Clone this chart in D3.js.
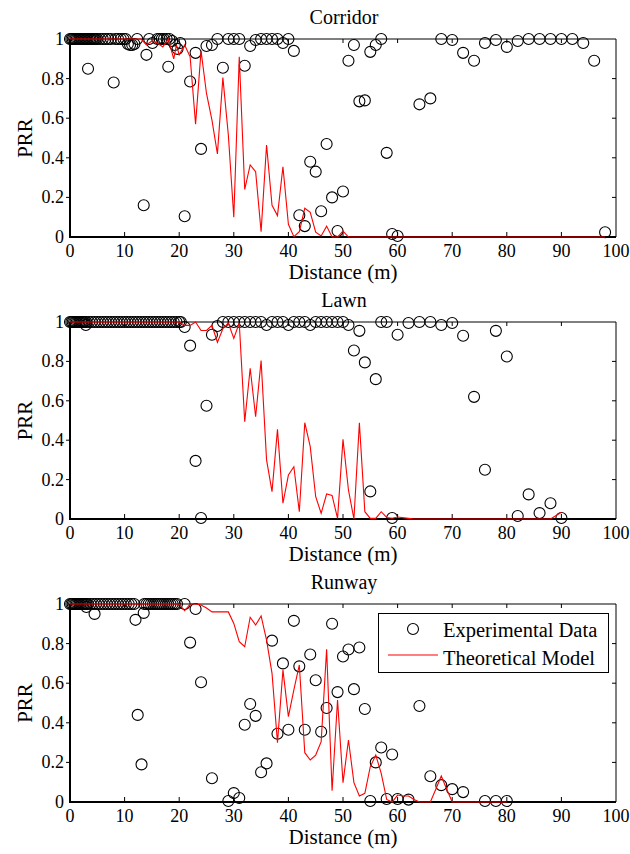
<!DOCTYPE html>
<html><head><meta charset="utf-8">
<script src="https://cdnjs.cloudflare.com/ajax/libs/d3/7.8.5/d3.min.js"></script>
<style>html,body{margin:0;padding:0;background:#fff;}svg{display:block;}</style>
</head><body>
<script>
// ---------- DATA ----------
const panelTitles = ["Corridor", "Lawn", "Runway"];
const xTicks = [0,10,20,30,40,50,60,70,80,90,100];
const yTicks = [0,0.2,0.4,0.6,0.8,1];
const yTickLabels = ["0","0.2","0.4","0.6","0.8","1"];
const legendLabels = ["Experimental Data", "Theoretical Model"];

// Corridor experimental
const corridorExpX = [0,0.25,0.5,0.75,1,1.25,1.5,1.75,2,2.25,2.5,2.75,3,3.25,3.5,3.75,4,4.25,4.5,4.75,5,
  5.5,6,6.5,7,7.5,8.3,8.8,9.3,9.8,10.2,10.6,11,11.4,11.8,12.3,3.3,8,13.5,14,14.5,15.1,16,16.4,16.8,17.2,17.7,18.2,18,18.7,19.2,19.7,20.2,
  21,22,23,24,25,26,27,28,29,30,31,32,33,34,35,36,37,38,39,40,41,42,43,44,45,46,47,48,49,50,51,52,53,54,55,56,57,58,59,60,
  64,66,68,70,72,74,76,78,80,82,84,86,88,90,92,94,96,98];
const corridorExpY = [1,1,1,1,1,1,1,1,1,1,1,1,1,1,1,1,1,1,1,1,1,
  1,1,1,1,1,1,1,1,1,1,0.975,0.97,0.97,0.975,1,0.85,0.78,0.16,0.92,1,0.98,1,1,1,1,1,1,0.86,0.99,0.97,0.95,0.98,
  0.105,0.785,0.93,0.445,0.965,0.97,1,0.855,1,1,1,0.865,0.965,0.995,1,1,1,1,0.98,1,0.94,0.11,0.055,0.38,0.33,0.13,0.47,0.2,0.03,0.23,0.89,0.97,0.685,0.69,0.935,0.97,1,0.425,0.015,0.005,
  0.67,0.70,1,0.995,0.93,0.89,0.98,0.995,0.96,0.99,1,1,1,1,1,0.98,0.89,0.024];
// Corridor model
const corridorModX = [0,13,14,15,16,17,18,19,19.5,20,21,22,23,24,25,26,27,28,29,30,31,32,33,34,35,36,37,38,39,40,41,42,43,44,45,46,47,48,49,50,51,98];
const corridorModY = [1,1,0.97,0.99,0.98,0.96,1,0.9,0.97,0.92,0.97,0.91,0.57,0.94,0.725,0.59,0.42,0.805,0.515,0.1,0.91,0.24,0.364,0.33,0.027,0.465,0.16,0.108,0.355,0.064,0.002,0.027,0.145,0.125,0.024,0.005,0.055,0,0,0.03,0,0];

// Lawn experimental
const lawnExpX = [0,0.25,0.5,0.75,1,1.25,1.5,1.75,2,2.25,2.5,2.75,3,2.9,
  3.5,4,4.5,5,5.5,6,6.5,7,7.5,8,8.5,9,9.5,10,10.5,11,11.5,12,12.5,13,13.5,14,14.5,15,15.5,16,16.5,17,17.5,18,18.5,19,19.5,20,20.3,
  21,22,23,24,25,26,27,28,29,30,31,32,33,34,35,36,37,38,39,40,41,42,43,44,45,46,47,48,49,50,51,52,53,54,55,56,57,58,59,60,
  62,64,66,68,70,72,74,76,78,80,82,84,86,88,90];
const lawnExpY = [1,1,1,1,1,1,1,1,1,1,1,1,1,0.985,
  1,1,1,1,1,1,1,1,1,1,1,1,1,1,1,1,1,1,1,1,1,1,1,1,1,1,1,1,1,1,1,1,1,1,1,
  0.975,0.88,0.295,0.005,0.575,0.935,0.98,1,1,1,1,1,1,1,1,0.985,1,1,1,0.985,1,1,1,0.985,1,1,1,1,1,1,0.985,0.855,0.955,0.795,0.14,0.71,1,1,0.005,0.935,
  0.995,1,1,0.985,0.995,0.93,0.62,0.25,0.955,0.825,0.015,0.125,0.03,0.08,0.005];
// Lawn model
const lawnModX = [0,20,21,22,23,24,25,26,27,28,29,30,31,32,33,34,35,36,37,38,39,40,41,42,43,44,45,46,47,48,49,50,51,52,53,54,55,56,57,58,59,60,62,63,88,90];
const lawnModY = [1,1,0.983,0.983,1,0.957,0.957,0.983,0.897,0.966,0.995,0.917,0.995,0.494,0.765,0.519,0.804,0.3,0.139,0.455,0.08,0.223,0.265,0.037,0.489,0.367,0.113,0.029,0.127,0.12,0.003,0.404,0.147,0,0.488,0.037,0.003,0.003,0.037,0.008,0.004,0.01,0.003,0,0,0.034];

// Runway experimental
const runwayExpX = [0,0.25,0.5,0.75,1,1.25,1.5,1.75,2,2.25,2.5,2.75,3,3.25,3,4.5,
  3.75,4.25,4.75,5.25,5.75,6.25,6.75,7.25,7.75,8.25,8.75,9.25,9.75,10.25,10.75,11.25,11.75,
  13.6,14,14.4,14.8,15.2,15.6,16,16.4,16.8,17.2,17.6,18,18.4,18.8,19.2,19.6,
  12,12.4,13.1,13.5,21,22,23,24,26,29,30,31,32,33,34,35,36,37,38,39,40,41,42,43,44,45,46,47,48,49,50,51,52,53,54,55,56,57,58,59,60,62,64,66,68,70,72,76,78,80];
const runwayExpY = [1,1,1,1,1,1,1,1,1,1,1,1,1,1,0.985,0.95,
  1,1,1,1,1,1,1,1,1,1,1,1,1,1,1,1,1,
  1,1,1,1,1,1,1,1,1,1,1,1,1,1,1,1,
  0.92,0.44,0.19,0.955,1,0.805,0.975,0.605,0.12,0.005,0.045,0.02,0.39,0.495,0.435,0.15,0.195,0.815,0.345,0.70,0.365,0.915,0.685,0.365,0.745,0.615,0.355,0.475,0.90,0.555,0.735,0.77,0.57,0.78,0.47,0.005,0.20,0.275,0.015,0.24,0.015,0.012,0.485,0.13,0.085,0.065,0.05,0.005,0.005,0.005];
// Runway model
const runwayModX = [0,20,21,22,23,24,25,26,29,30,31,32,33,34,35,36,37,38,39,40,41,42,43,44,45,46,47,48,49,50,51,52,53,54,55,56,57,58,59,60,61,62,63,64,66,67,68,69,70,80];
const runwayModY = [1,1,0.966,1,1,0.995,0.98,0.96,0.96,0.902,0.81,0.784,0.933,0.894,0.94,0.818,0.65,0.3,0.667,0.431,0.566,0.692,0.249,0.212,0.237,0.305,0.771,0.057,0.515,0.098,0.313,0.098,0.03,0.044,0.178,0.237,0.145,0.013,0,0.035,0.03,0.03,0.013,0,0,0.064,0.131,0.064,0,0];

const panels = [
  {title: panelTitles[0], ex: corridorExpX, ey: corridorExpY, mx: corridorModX, my: corridorModY},
  {title: panelTitles[1], ex: lawnExpX, ey: lawnExpY, mx: lawnModX, my: lawnModY},
  {title: panelTitles[2], ex: runwayExpX, ey: runwayExpY, mx: runwayModX, my: runwayModY, legend: true}
];

// ---------- LAYOUT ----------
const W = 630, H = 854;
const FONT = "'Liberation Serif','Times New Roman',serif";
const left = 70, right = 616;
const tops = [39, 322, 604], bottoms = [237, 519, 802];

const svg = d3.select("body").append("svg").attr("width", W).attr("height", H)
  .style("font-family", FONT);

const x = d3.scaleLinear().domain([0,100]).range([left, right]);

panels.forEach((p, i) => {
  const y = d3.scaleLinear().domain([0,1]).range([bottoms[i], tops[i]]);
  const g = svg.append("g");
  const top = tops[i], bot = bottoms[i];

  // box: top & right thin
  g.append("line").attr("x1", left).attr("x2", right).attr("y1", top).attr("y2", top).attr("stroke","#000").attr("stroke-width",1);
  g.append("line").attr("x1", right).attr("x2", right).attr("y1", top).attr("y2", bot).attr("stroke","#000").attr("stroke-width",1);

  // ticks
  xTicks.forEach(t => {
    if (t === 0 || t === 100) return;
    g.append("line").attr("x1", x(t)).attr("x2", x(t)).attr("y1", top).attr("y2", top+4).attr("stroke","#000");
    g.append("line").attr("x1", x(t)).attr("x2", x(t)).attr("y1", bot).attr("y2", bot-5).attr("stroke","#000");
  });
  yTicks.forEach(t => {
    if (t === 0 || t === 1) return;
    g.append("line").attr("x1", right).attr("x2", right-4).attr("y1", y(t)).attr("y2", y(t)).attr("stroke","#000");
    g.append("line").attr("x1", left).attr("x2", left-4).attr("y1", y(t)).attr("y2", y(t)).attr("stroke","#000");
  });

  // bottom & left thick axes
  g.append("line").attr("x1", left).attr("x2", right).attr("y1", bot).attr("y2", bot).attr("stroke","#000").attr("stroke-width",2);
  g.append("line").attr("x1", left).attr("x2", left).attr("y1", top).attr("y2", bot+1).attr("stroke","#000").attr("stroke-width",2);

  // tick labels
  g.selectAll(".xl").data(xTicks).enter().append("text")
    .attr("x", d => x(d)).attr("y", bot + 20).attr("text-anchor","middle")
    .attr("font-size", 18).text(d => d);
  g.selectAll(".yl").data(yTicks).enter().append("text")
    .attr("x", left - 6).attr("y", d => y(d) + 6).attr("text-anchor","end")
    .attr("font-size", 18).text((d,k) => yTickLabels[k]);

  // titles
  g.append("text").attr("x", (left+right)/2 + 1).attr("y", top - 15).attr("text-anchor","middle")
    .attr("font-size", 20).text(p.title);
  g.append("text").attr("x", (left+right)/2).attr("y", bot + 42).attr("text-anchor","middle")
    .attr("font-size", 21).text("Distance (m)");
  g.append("text").attr("transform", `translate(32,${(top+bot)/2}) rotate(-90)`)
    .attr("text-anchor","middle").attr("font-size", 21).text("PRR");

  // experimental circles
  const pts = p.ex.map((v,k) => [v, p.ey[k]]);
  g.selectAll(".pt").data(pts).enter().append("circle")
    .attr("cx", d => x(d[0])).attr("cy", d => y(d[1])).attr("r", 5.5)
    .attr("fill","none").attr("stroke","#000").attr("stroke-width",1.1);

  // model line
  const line = d3.line().x(d => x(d[0])).y(d => y(d[1]));
  const mpts = p.mx.map((v,k) => [v, p.my[k]]);
  g.append("path").datum(mpts).attr("d", line).attr("fill","none")
    .attr("stroke","#ff0000").attr("stroke-width",1.1);

  if (p.legend) {
    const lg = svg.append("g");
    lg.append("rect").attr("x", 378.5).attr("y", 613.5).attr("width", 230).attr("height", 59)
      .attr("fill","#fff").attr("stroke","#000").attr("stroke-width",1);
    lg.append("circle").attr("cx", 413).attr("cy", 629).attr("r", 5.5)
      .attr("fill","none").attr("stroke","#000").attr("stroke-width",1.1);
    lg.append("text").attr("x", 443).attr("y", 637).attr("font-size", 20.5).text(legendLabels[0]);
    lg.append("line").attr("x1", 388).attr("x2", 438).attr("y1", 655).attr("y2", 655)
      .attr("stroke","#ff0000").attr("stroke-width",1.1);
    lg.append("text").attr("x", 443).attr("y", 665).attr("font-size", 20.5).text(legendLabels[1]);
  }
});
</script>
</body></html>
